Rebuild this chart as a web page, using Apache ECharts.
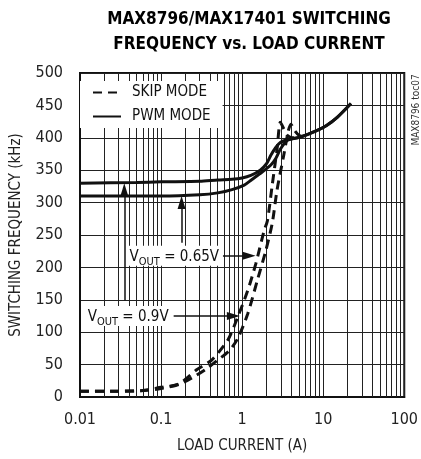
<!DOCTYPE html>
<html><head><meta charset="utf-8">
<script src="https://cdn.jsdelivr.net/npm/echarts@6/dist/echarts.min.js"></script>
<style>html,body{margin:0;padding:0;background:#fff}#c{width:421px;height:459px}</style>
</head><body><div id="c"></div>
<script>
// ---- data ----
const titleLines = ['MAX8796/MAX17401 SWITCHING', 'FREQUENCY vs. LOAD CURRENT'];
const xTickValues = [0.01, 0.1, 1, 10, 100];
const xTickLabels = ['0.01', '0.1', '1', '10', '100'];
const minorMultipliers = [2, 3, 4, 5, 6, 7, 8, 9];
const decades = [0.01, 0.1, 1, 10];

// SKIP MODE, VOUT = 0.9V (left dashed)
const skip09 = [[0.01,9],[0.03,9],[0.06,10],[0.1,15],[0.165,20],[0.275,42],[0.42,57],[0.667,88],[0.88,123],[1.17,164],[1.47,205],[1.86,256],[2.05,272],[2.35,327],[2.7,383],[2.96,424],[3.26,414],[3.6,404],[4.2,400],[5,401]];
// SKIP MODE, VOUT = 0.65V (right dashed)
const skip065 = [[0.01,9],[0.03,9],[0.06,10],[0.1,13],[0.17,20],[0.26,32],[0.35,42],[0.5,57],[0.7,72],[0.88,90],[1.17,128],[1.54,180],[1.95,225],[2.35,268],[2.7,320],[3.26,373],[3.7,410],[4.0,421],[4.4,412],[5.0,404],[5.5,402]];
// PWM MODE, VOUT = 0.9V (upper solid)
const pwm09 = [[0.01,330],[0.05,331],[0.1,332],[0.3,333],[0.5,335],[0.75,336],[1.0,338],[1.28,342],[1.67,350],[2.0,360],[2.26,373],[2.6,385],[2.98,393],[3.6,397],[5.2,401],[8.3,411],[11,419],[15,432],[22,453]];
// PWM MODE, VOUT = 0.65V (lower solid)
const pwm065 = [[0.01,310],[0.1,310],[0.3,312],[0.5,315],[0.75,320],[1.06,327],[1.3,335],[1.67,345],[2.26,358],[2.6,368],[2.98,383],[3.6,396],[5.2,401],[8.3,411],[11,419],[15,432],[22,453]];

// annotation arrows [tail, arrowhead base]
const arrow065h = [[0.58, 218], [1.22, 218]];
const arrow065v = [[0.179, 238], [0.179, 300]];
const arrow09h = [[0.143, 125], [0.78, 125]];
const arrow09v = [[0.0352, 149], [0.0352, 320]];
const label065 = {text: ['V', 'OUT', ' = 0.65V'], at: [0.565, 218]};
const label09 = {text: ['V', 'OUT', ' = 0.9V'], at: [0.135, 125]};

// ---- chart ----
const FONT = '"DejaVu Sans Condensed", "Liberation Sans Narrow", sans-serif';
const chart = echarts.init(document.getElementById('c'));
const minorLines = [];
decades.forEach(d => minorMultipliers.forEach(m => minorLines.push({xAxis: +(d * m).toPrecision(3)})));

const arrowData = [arrow065h, arrow065v, arrow09h, arrow09v].map(a => [{coord: a[0]}, {coord: a[1]}]);

function curve(name, data, dashed) {
  return {
    type: 'line', name, data, showSymbol: false, symbol: 'none', smooth: 0.25,
    lineStyle: {color: '#111', width: 3, type: dashed ? [9, 6] : 'solid'},
    itemStyle: {color: '#111'}, z: 5, silent: true
  };
}

chart.setOption({
  animation: false,
  title: {
    text: titleLines.join('\n'), left: 244, top: 2, textAlign: 'center',
    textStyle: {fontFamily: FONT, fontSize: 17, fontWeight: 'bold', color: '#000', lineHeight: 25}
  },
  grid: {left: 80, right: 12, top: 73, bottom: 58, show: true, borderColor: '#111', borderWidth: 2, backgroundColor: 'transparent'},
  legend: {
    data: ['SKIP MODE', 'PWM MODE'], orient: 'vertical', left: 80, top: 81, z: 20,
    backgroundColor: '#fff', padding: [4, 12, 4, 12], itemGap: 9, itemWidth: 28, itemHeight: 14,
    itemStyle: {opacity: 0},
    textStyle: {fontFamily: FONT, fontSize: 15, color: '#111', padding: [0, 0, 0, 6]}, selectedMode: false
  },
  xAxis: {
    type: 'log', logBase: 10, min: 0.01, max: 100,
    axisLine: {show: true, lineStyle: {color: '#111', width: 2}},
    axisTick: {show: false},
    splitLine: {show: true, lineStyle: {color: '#222', width: 1}},
    axisLabel: {fontFamily: FONT, fontSize: 16, color: '#222', margin: 15,
      formatter: v => { const i = xTickValues.findIndex(t => Math.abs(Math.log10(t) - Math.log10(v)) < 1e-6); return i >= 0 ? xTickLabels[i] : ''; }},
    name: 'LOAD CURRENT (A)', nameLocation: 'middle', nameGap: 42,
    nameTextStyle: {fontFamily: FONT, fontSize: 15, color: '#222'}
  },
  yAxis: {
    type: 'value', min: 0, max: 500, interval: 50,
    axisLine: {show: true, lineStyle: {color: '#111', width: 2}},
    axisTick: {show: false},
    splitLine: {show: true, lineStyle: {color: '#222', width: 1}},
    axisLabel: {fontFamily: FONT, fontSize: 16, color: '#222', margin: 17},
    name: 'SWITCHING FREQUENCY (kHz)', nameLocation: 'middle', nameGap: 56,
    nameTextStyle: {fontFamily: FONT, fontSize: 15, color: '#222'}
  },
  series: [
    {
      type: 'line', name: 'grid', data: [], silent: true, z: 1,
      markLine: {silent: true, z: 1, symbol: ['none', 'none'], label: {show: false}, animation: false,
        lineStyle: {color: '#222', width: 1, type: 'solid'}, data: minorLines}
    },
    {
      type: 'line', name: 'arrows', data: [], silent: true, z: 6,
      markLine: {silent: true, z: 6, symbol: ['none', 'triangle'], symbolSize: [8, 13], label: {show: false}, animation: false,
        lineStyle: {color: '#111', width: 1.5, type: 'solid'}, itemStyle: {color: '#111'}, data: arrowData}
    },
    curve('SKIP MODE', skip09, true),
    curve('SKIP MODE', skip065, true),
    curve('PWM MODE', pwm09, false),
    curve('PWM MODE', pwm065, false)
  ]
});

function richLabel(lbl) {
  const p = chart.convertToPixel({gridIndex: 0}, lbl.at);
  return {
    type: 'text', x: p[0], y: p[1], z: 100,
    style: {
      text: '{a|' + lbl.text[0] + '}{s|' + lbl.text[1] + '}{a|' + lbl.text[2] + '}',
      align: 'right', verticalAlign: 'middle', backgroundColor: '#fff', padding: [1, 3, 1, 3],
      rich: {
        a: {fontFamily: FONT, fontSize: 15, fill: '#111', verticalAlign: 'bottom', lineHeight: 18},
        s: {fontFamily: FONT, fontSize: 11, fill: '#111', verticalAlign: 'bottom', lineHeight: 12, padding: [0, 0, -3, 0]}
      }
    }
  };
}

chart.setOption({
  graphic: [
    richLabel(label065),
    richLabel(label09),
    {type: 'text', x: 416, y: 110, rotation: Math.PI / 2, z: 100,
      style: {text: 'MAX8796 toc07', fontFamily: FONT, fontSize: 10, fill: '#333', align: 'center', verticalAlign: 'middle'}}
  ]
});
</script></body></html>
